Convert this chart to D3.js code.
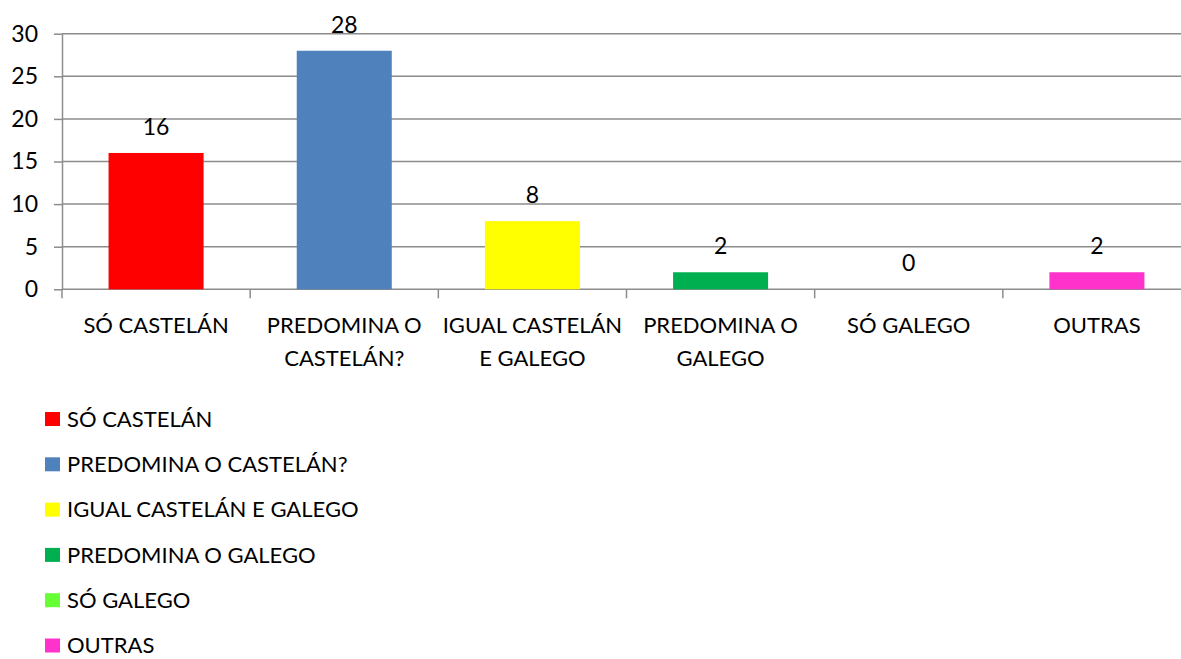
<!DOCTYPE html>
<html>
<head>
<meta charset="utf-8">
<script src="https://cdn.jsdelivr.net/npm/d3@7"></script>
<style>
  body { margin: 0; background: #fff; }
  text { font-family: Lato, "Open Sans", sans-serif; fill: #000; }
</style>
</head>
<body>
<div id="chart"></div>
<script>
// categories, values and colours
const categories = ["SÓ CASTELÁN", "PREDOMINA O CASTELÁN?", "IGUAL CASTELÁN E GALEGO", "PREDOMINA O GALEGO", "SÓ GALEGO", "OUTRAS"];
const axisLabels = [["SÓ CASTELÁN"], ["PREDOMINA O", "CASTELÁN?"], ["IGUAL CASTELÁN", "E GALEGO"], ["PREDOMINA O", "GALEGO"], ["SÓ GALEGO"], ["OUTRAS"]];
const values = [16, 28, 8, 2, 0, 2];
const colors = ["#FF0000", "#4F81BD", "#FFFF00", "#00B050", "#66FF33", "#FF33CC"];
const yTicks = [0, 5, 10, 15, 20, 25, 30];

const width = 1181, height = 659;
const fs = 22;
const gridColor = "#8c8c8c";

const svg = d3.select("#chart").append("svg")
    .attr("width", width)
    .attr("height", height);

// plot area runs past the right edge, like the original
const x = d3.scaleBand()
    .domain(categories)
    .range([62, 1191])
    .padding(0);

const y = d3.scaleLinear()
    .domain([0, 30])
    .range([289.3, 33.7]);

// gridlines + left axis
const yAxis = svg.append("g")
    .attr("transform", "translate(62,0)")
    .call(d3.axisLeft(y).tickValues(yTicks).tickSize(8).tickPadding(16).tickSizeOuter(0));
yAxis.select(".domain").attr("stroke", gridColor).attr("stroke-width", 1.5);
yAxis.selectAll(".tick line").attr("stroke", gridColor).attr("stroke-width", 1.5);
yAxis.selectAll(".tick text").style("font-size", "23px").attr("font-family", null);

svg.append("g")
  .selectAll("line")
  .data(yTicks)
  .enter().append("line")
    .attr("x1", 62)
    .attr("x2", width)
    .attr("y1", d => y(d))
    .attr("y2", d => y(d))
    .attr("stroke", gridColor)
    .attr("stroke-width", 1.5);

// bottom axis ticks at category boundaries
svg.append("g")
  .selectAll("line")
  .data(categories)
  .enter().append("line")
    .attr("x1", d => x(d))
    .attr("x2", d => x(d))
    .attr("y1", y(0))
    .attr("y2", y(0) + 9)
    .attr("stroke", gridColor)
    .attr("stroke-width", 1.5);

// category labels, wrapped on two lines
const lab = svg.append("g")
  .selectAll("text")
  .data(categories)
  .enter().append("text")
    .attr("text-anchor", "middle")
    .style("font-size", fs + "px")
    .attr("y", 333);
lab.selectAll("tspan")
  .data((d, i) => axisLabels[i].map(t => ({t: t, c: d})))
  .enter().append("tspan")
    .attr("x", d => x(d.c) + x.bandwidth() / 2)
    .attr("dy", (d, i) => i === 0 ? 0 : 32.5)
    .text(d => d.t);

// bars
const barFrac = 0.505;
svg.append("g")
  .selectAll("rect")
  .data(values)
  .enter().append("rect")
    .attr("x", (d, i) => x(categories[i]) + x.bandwidth() * (1 - barFrac) / 2)
    .attr("y", d => y(d))
    .attr("width", x.bandwidth() * barFrac)
    .attr("height", d => y(0) - y(d))
    .attr("fill", (d, i) => colors[i]);

// value labels
svg.append("g")
  .selectAll("text")
  .data(values)
  .enter().append("text")
    .attr("x", (d, i) => x(categories[i]) + x.bandwidth() / 2)
    .attr("y", d => y(d) - 18)
    .attr("text-anchor", "middle")
    .style("font-size", "23px")
    .text(d => d);

// legend
const legend = svg.append("g")
  .selectAll("g")
  .data(categories)
  .enter().append("g")
    .attr("transform", (d, i) => `translate(45,${419 + i * 45.3})`);
legend.append("rect")
    .attr("x", 0)
    .attr("y", -7)
    .attr("width", 15)
    .attr("height", 14)
    .attr("fill", (d, i) => colors[i]);
legend.append("text")
    .attr("x", 22)
    .attr("dy", "0.35em")
    .style("font-size", fs + "px")
    .text(d => d);
</script>
</body>
</html>
